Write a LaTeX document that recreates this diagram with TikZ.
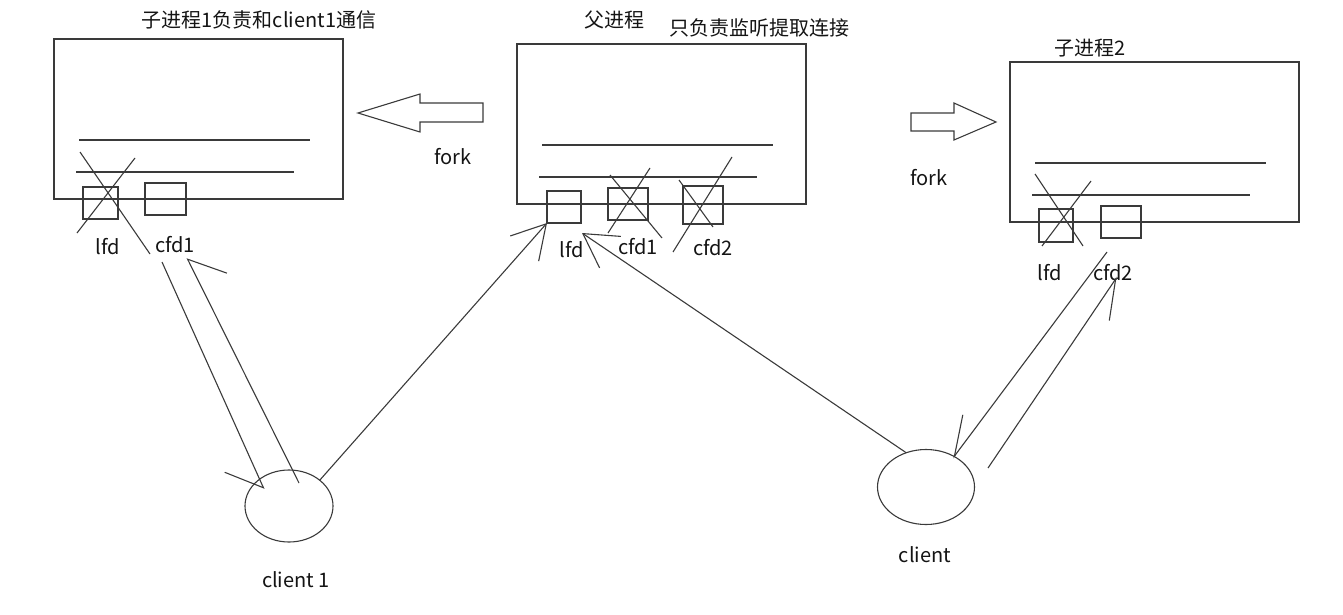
\documentclass[tikz,border=0pt]{standalone}
\usepackage{fontspec}
\newfontfamily\cjk{Noto Sans CJK SC}
\usetikzlibrary{arrows.meta,shapes.geometric}
\definecolor{ink}{HTML}{3A3A3A}

\begin{document}
\begin{tikzpicture}[x=1pt,y=-1pt,line width=1.1pt,
		every node/.style={font=\cjk\fontsize{20}{23}\selectfont,text=black!92,inner sep=0pt,outer sep=0pt},
		proc/.style={draw=ink,minimum width=289pt,minimum height=160pt,anchor=north west},
		fdbox/.style={draw=ink,minimum width=#1,minimum height=32pt,anchor=north west},
		client/.style={draw=ink,ellipse},
		harpwide/.style={-{Straight Barb[right,length=30pt,width=58pt]}},
		harpnarrow/.style={-{Straight Barb[right,length=38pt,width=36pt]}},
		twobarb/.style={-{Straight Barb[length=33pt,width=38pt]}}]
	\useasboundingbox (0,0) rectangle (1343,615);
	
	% process boxes and their titles
	\node[proc] (child1) at (54,39) {};
	\node[proc] (parent) at (517,44) {};
	\node[proc] (child2) at (1010,62) {};
	\node (child1title) at (259,20) {子进程1负责和client1通信};
	\node (parenttitle) at (614,20) {父进程};
	\node (parentnote) at (759,28) {只负责监听提取连接};
	\node (child2title) at (1090,48) {子进程2};
	% the two lines inside every box
	\foreach \b in {child1,parent,child2}{
		\draw[ink,shift={(\b.north west)}] (25,101) -- (256,101) (22,133) -- (240,133);
	}
	
	% file descriptors
	\node[fdbox=35pt] (c1lfd) at (83,187) {};
	\node[fdbox=41pt] (c1cfd) at (145,183) {};
	\node[fdbox=34pt] (plfd) at (547,191) {};
	\node[fdbox=40pt] (pcfd1) at (608,188) {};
	\node[fdbox=40pt,minimum height=38pt] (pcfd2) at (683,186) {};
	\node[fdbox=34pt,minimum height=33pt] (c2lfd) at (1039,209) {};
	\node[fdbox=40pt] (c2cfd) at (1101,206) {};
	\node (c1lfdtxt) at (108,247) {lfd};
	\node (c1cfdtxt) at (175,245) {cfd1};
	\node (plfdtxt) at (572,250) {lfd};
	\node (pcfd1txt) at (638,247) {cfd1};
	\node (pcfd2txt) at (713,248) {cfd2};
	\node (c2lfdtxt) at (1050,273) {lfd};
	\node (c2cfdtxt) at (1113,273) {cfd2};
	% closed descriptors are crossed out
	\foreach \xa/\ya/\xb/\yb in {80/152/150/254,135/158/77/233,610/175/662/238,650/168/608/233,
		679/180/713/227,732/157/673/252,1035/174/1083/246,1091/181/1042/246}{
		\draw[ink] (\xa,\ya) -- (\xb,\yb);
	}
	
	% fork arrows
	\draw[ink] (483,103) -- (420,103) -- (420,94) -- (358,113) -- (420,132) -- (420,122) -- (483,122) -- cycle;
	\draw[ink] (911,113) -- (954,113) -- (954,103) -- (996,122) -- (954,140) -- (954,131) -- (911,131) -- cycle;
	\node (forkleft) at (453,157) {fork};
	\node (forkright) at (929,178) {fork};
	
	% clients
	\node[client,minimum width=88pt,minimum height=72pt] (client1) at (289,506) {};
	\node[client,minimum width=97pt,minimum height=75pt] (client2) at (926,487) {};
	\node (client1txt) at (296,580) {client 1};
	\node (client2txt) at (925,555) {client};
	
	% connections
	\coordinate (a1s) at (162,262);
	\coordinate (a1e) at (264,489);
	\coordinate (b1s) at (299,483);
	\coordinate (b1e) at (187,258);
	\coordinate (d1e) at (582,233);
	\coordinate (e1s) at (1107,252);
	\coordinate (e1e) at (953,458);
	\coordinate (f1s) at (988,468);
	\coordinate (f1e) at (1117,277);
	\draw[ink,harpwide] (a1s) -- (a1e);
	\draw[ink,harpwide] (b1s) -- (b1e);
	\draw[ink,twobarb] (client1.40) -- (plfd.south west);
	\draw[ink,twobarb] (client2.120) -- (d1e);
	\draw[ink,harpnarrow] (e1s) -- (e1e);
	\draw[ink,harpnarrow] (f1s) -- (f1e);
\end{tikzpicture}
\end{document}
